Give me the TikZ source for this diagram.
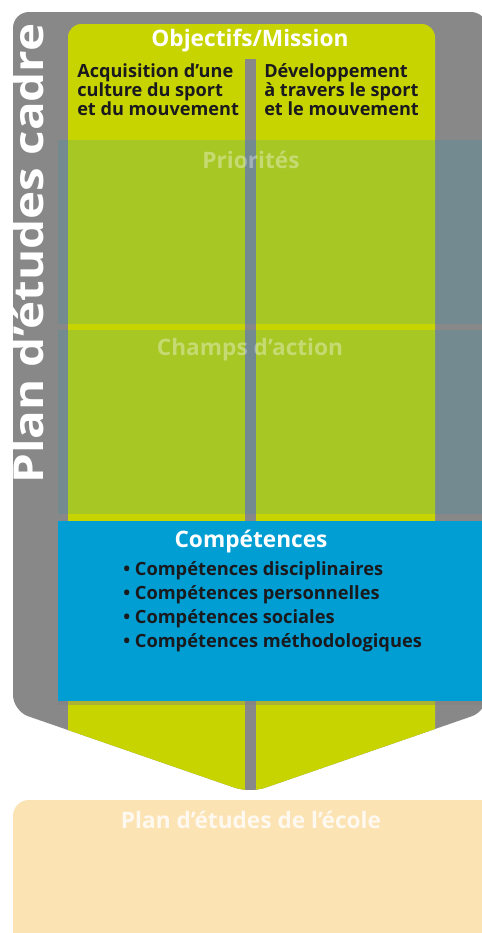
\documentclass[tikz,border=0pt]{standalone}
\usepackage{fontspec}
\setmainfont{Open Sans}
\usetikzlibrary{positioning,shadows}
\definecolor{framegray}{RGB}{136,136,136}
\definecolor{limegreen}{RGB}{200,212,0}
\definecolor{bandteal}{RGB}{30,150,180}
\definecolor{compblue}{RGB}{0,158,211}
\definecolor{schoolpeach}{RGB}{252,227,180}
\definecolor{inkdark}{RGB}{26,26,30}

\begin{document}
\begin{tikzpicture}[x=0.75pt,y=-0.75pt,
  head/.style={font=\bfseries\fontsize{17}{19}\selectfont,text=white,inner sep=0pt},
  faint/.style={head,text opacity=0.35},
  coltext/.style={font=\bfseries\fontsize{13.6}{14.4}\selectfont,text=inkdark,align=left,inner sep=0pt,anchor=north west},
  band/.style={fill=bandteal,fill opacity=0.2}]
\useasboundingbox (0,0) rectangle (482,933);
\clip (0,0) rectangle (482,933);
\coordinate (fl) at (13,400);
\coordinate (ftl) at (13,12);
\coordinate (ftr) at (487,12);
\coordinate (fbr) at (487,711);
\coordinate (ftip) at (250,793);
\coordinate (fbl) at (13,711);
\fill [framegray,rounded corners=12] (fl) -- (ftl) -- (ftr) -- (fbr) -- (ftip) -- (fbl) -- cycle;
\begin{scope}
\clip [rounded corners=12] (fl) -- (ftl) -- (ftr) -- (fbr) -- (ftip) -- (fbl) -- cycle;
\fill [limegreen,rounded corners=10] (68,24) rectangle (435,820);
\fill [framegray] (245,59) rectangle (256,820);
\end{scope}
\fill [band] (58,140) rectangle (490,324);
\fill [band] (58,330) rectangle (490,514);
\fill [compblue,drop shadow={shadow xshift=0pt,shadow yshift=-3pt,opacity=0.4}] (58,521) rectangle (490,701);
\fill [schoolpeach,rounded corners=12] (13,800) rectangle (500,950);
\node [head] (mission) at (250,41) {Objectifs/Mission};
\node [coltext] (culture) at (77,63) {Acquisition d’une\\culture du sport\\et du mouvement};
\node [coltext] (travers) at (264,63) {Développement\\à travers le sport\\et le mouvement};
\node [faint] (prio) at (251,160) {Priorités};
\node [faint] (champs) at (250,350) {Champs d’action};
\node [head] (comp) at (251,542) {Compétences};
\node [coltext,font=\bfseries\fontsize{13.7}{18}\selectfont] (items) at (123,561) {• Compétences disciplinaires\\• Compétences personnelles\\• Compétences sociales\\• Compétences méthodologiques};
\node [head,rotate=90,anchor=base,font=\bfseries\fontsize{31}{31}\selectfont] (cadre) at (43,253.5) {\scalebox{1.15}[1]{Plan d’études cadre}};
\node [head,text opacity=0.8] (ecole) at (251,820) {Plan d’études de l’école};
\end{tikzpicture}
\end{document}
